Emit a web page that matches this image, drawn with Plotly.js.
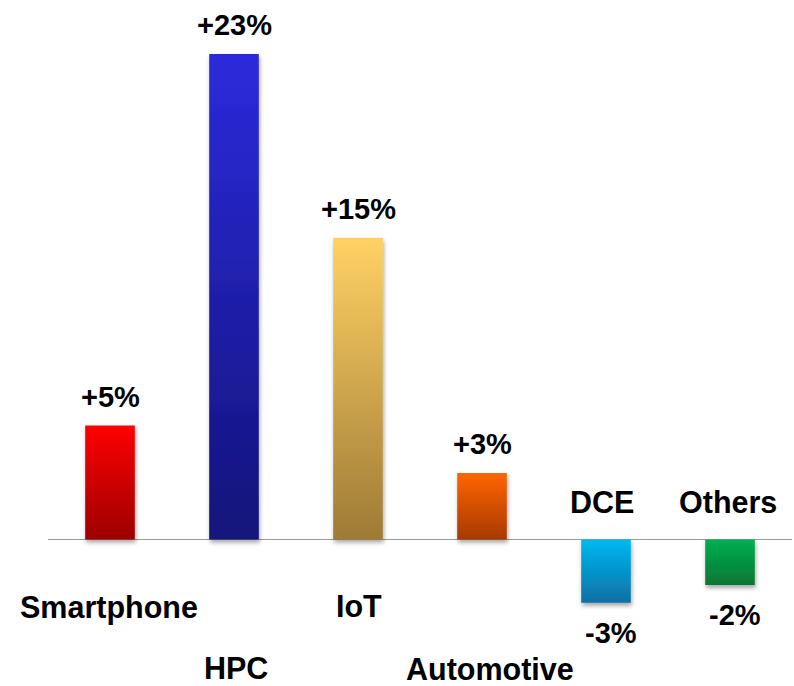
<!DOCTYPE html>
<html>
<head>
<meta charset="utf-8">
<script src="https://cdn.plot.ly/plotly-3.0.1.min.js"></script>
<style>
  html, body { margin: 0; padding: 0; background: #ffffff; }
  #chart { width: 794px; height: 686px; }
</style>
</head>
<body>
<div id="chart"></div>
<script>
// ---- data ----
const categories = ["Smartphone", "HPC", "IoT", "Automotive", "DCE", "Others"];
const growth = [5.4, 23, 14.3, 3.15, -3, -2.15];
const growthLabels = ["+5%", "+23%", "+15%", "+3%", "-3%", "-2%"];

// ---- styles ----
const topColors = ["#ff0000", "#2b2bdc", "#ffd264", "#ff6600", "#00b9f2", "#00b050"];
const bottomColors = ["#9c0000", "#13137a", "#9e7a36", "#a83800", "#0b6fa2", "#0a7534"];
const midColors = ["#d00000", "#2020aa", "#d0a64c", "#d85000", "#0594cc", "#059244"];

const FONT = "Liberation Sans, Arial, Helvetica, sans-serif";
const catFont = { family: FONT, size: 30.5, color: "#000000", weight: "bold" };
const valFont = { family: FONT, size: 29, color: "#000000", weight: "bold" };

// label tier per category (layout only): pixel shift from the zero line
const catShiftY = [-68, -128.5, -66.5, -129.5, 37.5, 37.5];
const catShiftX = [-1, 2, 1, 8, -4, -2];
const valShiftX = [0, 0.5, 0, 0, 5, 5];

const annotations = [];
categories.forEach((c, i) => {
  annotations.push({
    x: c, y: 0, xref: "x", yref: "y",
    text: c, showarrow: false, font: catFont,
    xanchor: "center", yanchor: "middle",
    xshift: catShiftX[i], yshift: catShiftY[i]
  });
  const v = growth[i];
  annotations.push({
    x: c, y: v, xref: "x", yref: "y",
    text: growthLabels[i], showarrow: false, font: valFont,
    xanchor: "center", yanchor: "middle",
    xshift: valShiftX[i], yshift: v >= 0 ? 29 : -30.5
  });
});

const trace = {
  type: "bar",
  x: categories,
  y: growth,
  width: 0.4,
  marker: { color: midColors, line: { width: 0 } },
  hoverinfo: "skip"
};

const layout = {
  width: 794, height: 686,
  margin: { l: 48, r: 2, t: 0, b: 0, pad: 0 },
  paper_bgcolor: "#ffffff", plot_bgcolor: "#ffffff",
  showlegend: false,
  xaxis: {
    type: "category", range: [-0.5, 5.5],
    showgrid: false, showline: false, showticklabels: false, ticks: "", zeroline: false, fixedrange: true
  },
  yaxis: {
    range: [-6.94, 25.56],
    showgrid: false, showline: false, showticklabels: false, ticks: "",
    zeroline: true, zerolinecolor: "#9a9a9a", zerolinewidth: 1.5, fixedrange: true
  },
  annotations: annotations
};

const gd = document.getElementById("chart");
Plotly.newPlot(gd, [trace], layout, { staticPlot: true, displayModeBar: false }).then(() => {
  const NS = "http://www.w3.org/2000/svg";
  const svg = gd.querySelector("svg.main-svg");
  let defs = svg.querySelector("defs");
  if (!defs) { defs = document.createElementNS(NS, "defs"); svg.insertBefore(defs, svg.firstChild); }
  topColors.forEach((tc, i) => {
    const g = document.createElementNS(NS, "linearGradient");
    g.setAttribute("id", "barGrad" + i);
    g.setAttribute("x1", "0"); g.setAttribute("y1", "0");
    g.setAttribute("x2", "0"); g.setAttribute("y2", "1");
    const s1 = document.createElementNS(NS, "stop");
    s1.setAttribute("offset", "0"); s1.setAttribute("stop-color", tc);
    const s2 = document.createElementNS(NS, "stop");
    s2.setAttribute("offset", "1"); s2.setAttribute("stop-color", bottomColors[i]);
    g.appendChild(s1); g.appendChild(s2);
    defs.appendChild(g);
  });
  const f = document.createElementNS(NS, "filter");
  f.setAttribute("id", "barShadow");
  f.setAttribute("x", "-50%"); f.setAttribute("y", "-50%");
  f.setAttribute("width", "200%"); f.setAttribute("height", "200%");
  const ds = document.createElementNS(NS, "feDropShadow");
  ds.setAttribute("dx", "1"); ds.setAttribute("dy", "3");
  ds.setAttribute("stdDeviation", "2.2");
  ds.setAttribute("flood-color", "#000000");
  ds.setAttribute("flood-opacity", "0.35");
  f.appendChild(ds);
  defs.appendChild(f);
  gd.querySelectorAll(".barlayer .point path").forEach((p, i) => {
    p.style.fill = "url(#barGrad" + i + ")";
    p.setAttribute("filter", "url(#barShadow)");
  });
});
</script>
</body>
</html>
